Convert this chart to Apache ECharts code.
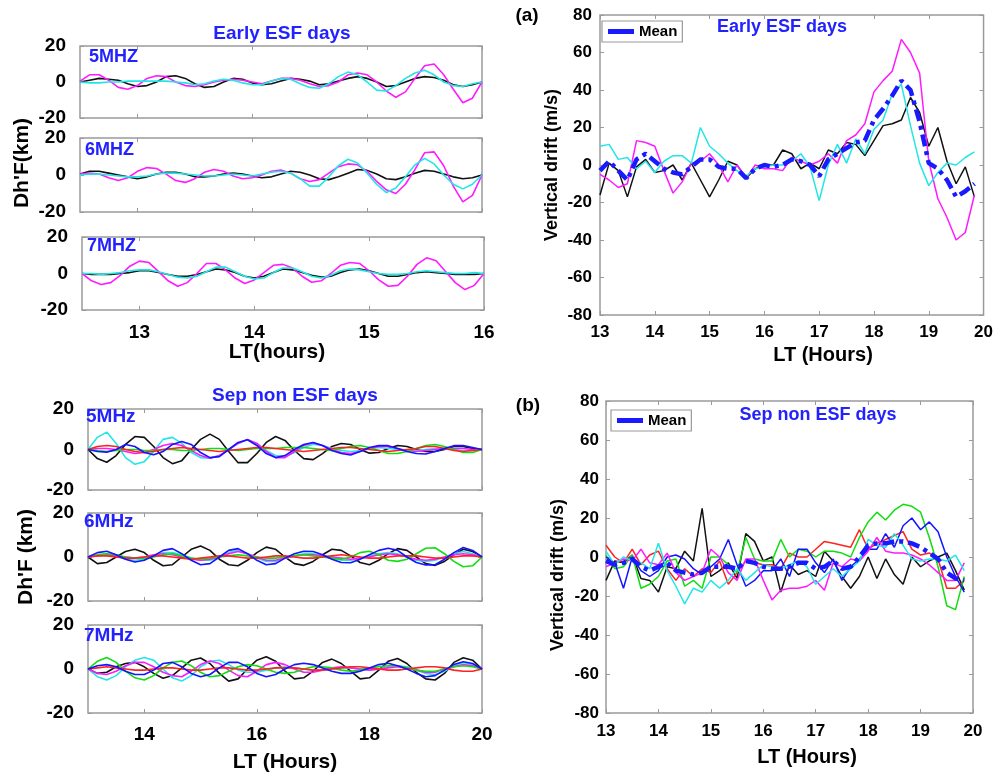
<!DOCTYPE html>
<html><head><meta charset="utf-8">
<script src="https://cdn.jsdelivr.net/npm/echarts@6/dist/echarts.min.js"></script>
<style>html,body{margin:0;padding:0;background:#fff}#c{width:996px;height:777px}</style>
</head><body><div id="c"></div>
<script>
// ---- sampling times (hours LT) ----
const tEarly = Array.from({length:43},(_,i)=>12.5+i/12);   // 5-min samples, Early ESF Dh'F
const tDrift = Array.from({length:42},(_,i)=>13+i/6);      // 10-min samples, drift panels
const tSep   = Array.from({length:43},(_,i)=>13+i/6);      // 10-min samples, Sep non ESF Dh'F

// ---- tick labels ----
const ticksEarlyX = [13,14,15,16];
const ticksSepX   = [14,16,18,20];

// ---- Early ESF days, Dh'F (km) ----
const e5_black = [0,1,2,1.5,1,-1,-2.5,-2,0,3,3.5,2,-1,-3,-2.5,0,2,1.5,-0.5,-1.5,-1,0.5,2,1.5,0.5,-1.5,-1,0.5,2,3,2,0,-2.5,-2,0,2,3,2.5,1,-1.5,-2.5,-1.5,0];
const e5_mag   = [0.5,4,4,1,-3,-4,-2,2,3.5,3,0,-2,-2.5,-1.5,0,1,1.5,1,0,-1,0.5,2,2,1,-1,-2.5,-2,0,4,5,4,0,-5,-8.5,-5.5,2,9,10,4,-4,-11.5,-9,0];
const e5_cyan  = [0,-0.5,-0.5,0,0,0.5,0.5,0.5,0.5,0.5,0,-0.5,-1.5,-1,0.5,1.5,1,-0.5,-1.5,-1.5,0.5,2,1.5,-1,-3,-3.5,-1,3,5.5,4,0,-4.5,-5,-2,2,5,6.5,4,0,-2,-2.5,-1,0];
const e6_black = [0.5,2,2,1,0,-1,-2,-1,0.5,1.5,1.5,0.5,-1,-1,-0.5,0.5,1,0.5,-0.5,-1.5,-1,0.5,2,1.5,0,-2,-2.5,-1,1,3,2.5,0.5,-2,-2.5,-1,1,2.5,2,0.5,-1,-2,-1.5,0];
const e6_mag   = [0.5,1,0.5,-1.5,-3,-1.5,2,4,3.5,0.5,-3,-4,-2,1.5,3,2,-0.5,-2,-1.5,0,2,2.7,1,-2,-3.5,-2.5,1,4.5,6,5.5,2,-3.5,-8,-10,-5,3,12,12.5,5,-6,-14.5,-11,0];
const e6_cyan  = [0,0.5,0.5,0,-0.5,-1,-1,-0.5,0.5,1,1,0.5,0,-0.5,-0.5,0,0.5,0,-0.5,0.5,1.5,2,1,-2,-6,-6,-1,5,8.5,6.5,1,-5,-9.5,-7,-1,5.5,9,6,0,-5,-7.5,-5,0];
const e7_black = [0,-0.5,-0.5,-0.5,0,0.5,1.5,1.5,0.5,-0.5,-1.5,-1.5,-0.5,1,2.5,2,0.5,-1.5,-2.5,-1.5,0.5,2.5,2,0.5,-1,-2,-1.5,0.5,2,2.5,1.5,0,-1.5,-1.5,-0.5,0.5,1,0.5,0,-0.5,-0.5,-0.5,0];
const e7_mag   = [0,-4,-6,-5,-1,4,6.8,6,1,-4,-7,-5,0,5.5,5.5,2,-2.5,-5.5,-3.5,0.5,4.5,5,3,-1.5,-4.8,-4,0,4.5,6,5.5,1.5,-3.5,-7,-6.5,-1.5,5,8.6,7,1,-5,-8.8,-6.5,0];
const e7_cyan  = [0,0,-0.5,0,0.5,1.5,2,2,1,-0.5,-2,-2.5,-1.5,1,3.5,3.5,1,-1.5,-3,-2.5,0.5,3,3,1,-1.5,-2.5,-1,1.5,2.5,2,1,0,-0.5,-0.5,0,1,1.5,1,0.5,0,0,0.5,0];

// ---- (a) Early ESF days, vertical drift (m/s) ----
const a_black = [-16,1,-3,-17,-1,3,-4,-3,0,-8,1,-8,-17,-8,2,0,-7,-2,0,0,8,6,-2,1,-2,8,6,12,11,5,13,21,22,24,36,28,10,20,2,-10,-1,-17];
const a_mag   = [-5,-8,-12,-10,13,12,10,-3,-15,-9,1,2,6,0,-9,0,-7,0,-2,-2,-3,4,2,0,2,6,1,13,16,22,39,45,50,67,60,49,2,-18,-28,-40,-36,-16];
const a_cyan  = [10,11,3,4,-2,2,-4,2,5,5,1,20,10,6,1,-3,-6,-2,-1,0,0,2,6,-1,-19,0,11,1,14,6,19,24,38,43,21,1,-11,-4,1,0,4,7];
const a_mean  = [-3,2,-3,-8,3,6,2,-2,-4,-5,-1,3,3,-1,-2,-2,-7,-2,0,-1,0,3,2,0,-6,3,6,9,12,13,24,30,37,45,40,23,1,-2,-8,-17,-14,-10];

// ---- (b) Sep non ESF days, vertical drift (m/s) ----
const b_black = [-12,-2,-3,1,-11,-12,-18,-5,-6,3,-2,25,-10,-7,-3,-11,12,8,-2,0,-18,-4,-9,-7,-10,3,-2,-10,-16,-10,0,-11,-1,-9,-14,0,-5,-2,0,2,-7,-17];
const b_red   = [6,0,-3,4,-4,1,3,-6,-12,-6,-10,-6,-8,-2,-14,-8,-2,-3,-4,-4,-6,2,0,0,4,8,7,6,5,14,4,7,9,11,13,4,1,2,-1,-16,-16,-12];
const b_green = [1,-6,-5,1,-16,-14,-10,-2,-1,-15,-12,-16,0,0,-4,-8,10,-1,-2,-2,9,0,4,3,0,3,3,2,0,10,18,23,19,24,27,26,23,10,-5,-25,-27,-10];
const b_blue  = [0,-3,-16,0,-7,-10,-7,0,1,-1,-6,-9,-5,-1,9,-4,-15,-12,-7,-7,-1,-10,4,4,-3,-8,-1,-12,-5,-1,4,4,12,5,16,20,14,18,13,0,-10,-18];
const b_mag   = [-5,-3,-1,-2,4,-3,-4,2,-8,-12,-10,-8,4,0,-8,-12,-1,-1,-12,-22,-17,-16,-16,-15,-12,-17,-3,-5,-1,-2,3,10,3,2,2,1,-1,-4,-8,-12,-12,-3];
const b_cyan  = [3,-4,0,-2,-3,-6,7,-7,-15,-24,-16,-18,-12,-16,-12,-6,-12,-8,-4,-5,-6,-4,-2,-5,-14,-10,-6,-10,-6,-2,9,6,5,12,6,-1,-2,-1,-1,-2,1,-7];
const b_mean  = [-2,-4,-3,-1,-5,-7,-5,-3,-7,-8,-9,-8,-5,-5,-5,-6,-2,-3,-5,-6,-6,-5,-3,-3,-6,-5,-2,-6,-5,0,6,7,7,8,8,7,5,2,-1,-8,-11,-12];

// ---- Sep non ESF days, Dh'F (km) ----
const s5_black = [0,-4.5,-6.3,-3,2.5,6.4,6,1.5,-4,-7,-5.5,0,5,7.6,5,-1,-6.5,-6.5,-2,3.5,6.4,4.5,-0.5,-4.5,-5,-2,1.5,3,2.5,0,-1.8,-1.5,0.5,2,1.5,0,-1,-1,0,1.5,1.5,0.5,0];
const s5_cyan  = [0,6,8.6,3,-4,-7.3,-6,-1,5,6,3,-1.5,-4,-4.3,-3,0,3,4.8,3,-0.5,-3,-3.5,-1.5,1,2.6,2,0.5,-0.5,-1,-0.5,0.5,1,0.5,0,-0.5,-0.5,0,0.5,0.5,0,-0.5,-0.5,0];
const s5_mag   = [0,0.5,0.5,0,-1,-2,-1.5,0,2,3,2,-0.5,-3,-4.3,-3,0,3,5,3,-1,-4,-4,-1,2,3.3,2,0,-1.5,-2,-1,0.5,1.5,1.5,0.5,-0.5,-1,-0.5,0,0.5,0.5,0.5,0,0];
const s5_green = [0,-0.5,-1,-0.5,0,0,-0.5,-0.5,0,0,-0.5,-0.5,0,0.5,0.5,0,-0.5,0,0.5,0.5,0.5,1,1,1,0.5,0,-0.5,0.5,1.5,2,1,-0.5,-2,-2,-1,0.5,2,2.5,1.5,0,-1.5,-1.5,0];
const s5_red   = [0,1.5,2,1.5,0,-1,-1.5,-1,0,0.5,1,0.5,0,-0.5,-1,-0.5,0,0.5,1,1,0.5,0,-0.5,-1,-0.5,0,0.5,1,1,0.5,0,-0.5,-1,-0.5,0,0.5,1.5,1.5,0.5,-0.5,-1,-0.5,0];
const s5_blue  = [0,-1,-1.3,0,2.5,1.5,-1.5,-2.6,-1,2.5,4,2.5,-1.5,-4,-3.5,0,3.5,4.8,2,-2,-4,-3,0,2.5,3.5,2,-0.5,-2,-2.7,-1,1,1.9,1.9,0.5,-1,-2,-2.2,-1,0.5,1.9,2,1,0];
const s6_black = [0,-3,-2.5,0,2.5,3.5,2,-1.5,-4,-3.5,0,3.5,5,3,-1,-3.5,-4,-1.5,2,4.5,3.5,0,-3,-3.8,-2,1,3.5,3,0.5,-2.5,-3.5,-1.5,1.5,3.8,3,0,-3,-3.8,-2,1,3.5,2.5,0];
const s6_cyan  = [0,1,1.5,0.5,-1,-1.5,-1,0.5,2,2,1,-0.5,-1.5,-1.5,0,2,3,1.5,-0.5,-2,-2,-0.5,0.5,1.5,1.5,0.5,-0.5,-1.5,-1.5,-0.5,0.5,1.5,2,1.5,0,-1.5,-2,-1.5,0,1.5,2.5,1.5,0];
const s6_mag   = [0,0.5,1,0.5,0,-0.5,0,1,1.5,1,0,-1,-1.5,-1,0,1.5,2.5,1.5,0,-1.5,-1.5,-0.5,0.5,1,1,0.5,0,-0.5,-1,-0.5,0,1,1.5,1,0,-1,-1.5,-1,0,1,1.5,1,0];
const s6_green = [0,1,1.5,1,0,-0.5,-0.5,0,1,1.5,0.5,-0.5,-1,-0.5,0,0.5,1,0.5,0,-0.5,-0.5,0,0.5,1,0.5,0,-0.5,-1,0,2,2.6,1,-1.5,-2,-1,1.5,4,4.2,1.5,-2,-4.4,-4,0];
const s6_red   = [0,0.5,0.5,0,-0.5,-0.5,0,0.5,0.5,0,-0.5,-1,-0.5,0,0.5,0.5,0,-0.5,-0.5,0,0.5,0.5,0,-0.5,-0.5,0,0.5,1,0.5,0,-0.5,-0.5,0,0.5,0.5,0.5,0,-0.5,-0.5,0,0.5,0.5,0];
const s6_blue  = [0,2,2.6,1,-1,-2.3,-1.5,0.5,3,3.8,1.5,-1.5,-3.5,-3,0,3,3.8,1.5,-1.5,-3.5,-3,-0.5,1.5,2.6,2.5,1,-1,-2.5,-2.6,-1,1,3,4,3,0,-2.5,-3.6,-3.5,-1,2,4.3,3,0];
const s7_black = [0,-2,-1.5,1,2.5,3,1,-2,-4.2,-3,0.5,4,5,2.5,-2,-5.5,-4.5,0,4,5.6,3.5,-1,-4.5,-4,-1,3,4.5,2.5,-1,-4.5,-4,-0.5,3.5,4.8,2.5,-1.5,-4.5,-5,-2,3,5.1,4,0];
const s7_cyan  = [0,-3.5,-5,-3,1,4,5.2,4,0,-4,-5.5,-3,1,3.5,4,2,-0.5,-1.5,-1.5,-0.5,0.5,1,0.5,0,-0.5,-0.5,0,0.5,0.5,0,-0.5,0,1,1.5,1,-0.5,-2,-2.5,-1,1.5,3,2,0];
const s7_mag   = [0,-2,-2.5,-1,1.5,3,3,1,-1.5,-3,-3.5,-1,2,3.6,2.5,-0.5,-3,-3.5,-1,2,3,2,0,-1.5,-1.5,-0.5,0.5,1,0.5,0,-0.5,0,0.5,1,0.5,-0.5,-1.5,-1.5,0,1,2,1.5,0];
const s7_green = [0,3.5,5.2,3,-1,-4,-5,-3,0.5,3,3.6,1.5,-1.5,-3.5,-3,-1,1,2,1.5,0,-1.5,-2,-1.5,0,1,1,0.5,-0.5,-1,-0.5,0.5,1,1.5,1.5,0.5,-0.5,-1,-1,0,1,1.5,1,0];
const s7_red   = [0,0.5,1,0.5,0,-0.5,-0.5,0,0.5,0.5,0,-0.5,-0.5,0,0.5,0.5,0,-0.5,-0.5,0,0.5,0.5,0.5,0,-0.5,-0.5,0,0.5,1,1,0.5,0,-0.5,-0.5,0,0.5,1,1,0.5,-0.5,-1,-1,0];
const s7_blue  = [0,1.5,2,1,-1,-2.5,-2.5,-0.5,2.5,3,1,-2,-3.5,-2.5,0.5,3,3,1,-2,-3.5,-2.5,0,2,2.6,2,0.5,-1,-2,-2,-1,0.5,2,2.6,1.5,0,-2,-3.5,-3,-0.5,2,3.3,2.5,0];

// ---- styling ----
const C = {black:'#111111', mag:'#ff1aff', cyan:'#22e6e6', red:'#ff2222', green:'#11dd11', blue:'#1414ff', mean:'#1a1aff', title:'#2222ff'};
const FF = '"Liberation Sans", Arial, sans-serif';
const frame = '#9a9a9a';

const grids = [
  {left:80, top:46,  width:402, height:72},
  {left:80, top:138, width:402, height:74},
  {left:82, top:237, width:402, height:73},
  {left:600, top:15, width:385, height:300},
  {left:88, top:409, width:394, height:81},
  {left:88, top:513, width:394, height:88},
  {left:88, top:625, width:394, height:88},
  {left:606, top:401, width:367, height:312}
].map(g => Object.assign({show:true, borderColor:frame, borderWidth:1.5, containLabel:false}, g));

const xAxes = [], yAxes = [];
function axes(gi, xmin, xmax, xticks, xShowLabels, xFont, xMargin, ymin, ymax, yint, yFont, yMargin){
  const tick = {inside:true, length:4, lineStyle:{color:frame, width:1}};
  const xb = {gridIndex:gi, type:'value', min:xmin, max:xmax, position:'bottom',
    axisLine:{show:false, onZero:false}, splitLine:{show:false},
    axisTick:Object.assign({}, tick),
    axisLabel:{show:xShowLabels, color:'#000', fontFamily:FF, fontWeight:'bold', fontSize:xFont, margin:xMargin}};
  if (xticks) { xb.axisTick.customValues = xticks; xb.axisLabel.customValues = xticks; }
  else { xb.interval = 1; }
  const xt = JSON.parse(JSON.stringify(xb)); xt.position='top'; xt.axisLabel={show:false};
  xAxes.push(xb, xt);
  const yl = {gridIndex:gi, type:'value', min:ymin, max:ymax, interval:yint, position:'left',
    axisLine:{show:false, onZero:false}, splitLine:{show:false}, axisTick:Object.assign({}, tick),
    axisLabel:{color:'#000', fontFamily:FF, fontWeight:'bold', fontSize:yFont, margin:yMargin}};
  const yr = JSON.parse(JSON.stringify(yl)); yr.position='right'; yr.axisLabel={show:false};
  yAxes.push(yl, yr);
}
axes(0, 12.5, 16, ticksEarlyX, false, 18, 12, -20, 20, 20, 19, 14);
axes(1, 12.5, 16, ticksEarlyX, false, 18, 12, -20, 20, 20, 19, 14);
axes(2, 12.5, 16, ticksEarlyX, true, 19, 13, -20, 20, 20, 19, 14);
axes(3, 13, 20, null, true, 17, 9, -80, 80, 20, 17, 8);
axes(4, 13, 20, ticksSepX, false, 18, 12, -20, 20, 20, 19, 14);
axes(5, 13, 20, ticksSepX, false, 18, 12, -20, 20, 20, 19, 14);
axes(6, 13, 20, ticksSepX, true, 19, 12, -20, 20, 20, 19, 14);
axes(7, 13, 20, null, true, 17, 10, -80, 80, 20, 17, 7);

const series = [];
function line(gi, t, v, color, width, name, dash){
  series.push({type:'line', name:name || undefined, xAxisIndex:2*gi, yAxisIndex:2*gi,
    data:v.map((y,i)=>[t[i], y]), symbol:'none', silent:true, animation:false,
    lineStyle:{color:color, width:width, type:dash || 'solid'}, itemStyle:{color:color}, z: name ? 5 : 2});
}
// Early ESF Dh'F
[[0,e5_black,e5_mag,e5_cyan],[1,e6_black,e6_mag,e6_cyan],[2,e7_black,e7_mag,e7_cyan]].forEach(p=>{
  line(p[0], tEarly, p[1], C.black, 1.6);
  line(p[0], tEarly, p[2], C.mag, 1.6);
  line(p[0], tEarly, p[3], C.cyan, 1.6);
});
// (a)
line(3, tDrift, a_black, C.black, 1.5);
line(3, tDrift, a_mag, C.mag, 1.5);
line(3, tDrift, a_cyan, C.cyan, 1.5);
line(3, tDrift, a_mean, C.mean, 4.5, 'Mean', [12,5,4,5]);
// Sep non ESF Dh'F
[[4,s5_black,s5_cyan,s5_mag,s5_green,s5_red,s5_blue],
 [5,s6_black,s6_cyan,s6_mag,s6_green,s6_red,s6_blue],
 [6,s7_black,s7_cyan,s7_mag,s7_green,s7_red,s7_blue]].forEach(p=>{
  line(p[0], tSep, p[1], C.black, 1.6);
  line(p[0], tSep, p[2], C.cyan, 1.6);
  line(p[0], tSep, p[3], C.mag, 1.6);
  line(p[0], tSep, p[4], C.green, 1.6);
  line(p[0], tSep, p[5], C.red, 1.6);
  line(p[0], tSep, p[6], C.blue, 1.6);
});
// (b)
line(7, tSep, b_black, C.black, 1.5);
line(7, tSep, b_red, C.red, 1.5);
line(7, tSep, b_green, C.green, 1.5);
line(7, tSep, b_blue, C.blue, 1.5);
line(7, tSep, b_mag, C.mag, 1.5);
line(7, tSep, b_cyan, C.cyan, 1.5);
line(7, tSep, b_mean, C.mean, 4.5, 'Mean', [12,5,4,5]);

function txt(x, y, text, size, color, align, rot){
  return {type:'text', x:x, y:y, rotation:rot||0, silent:true, z:10,
    style:{text:text, font:'bold '+size+'px '+FF, fill:color, align:align||'center', verticalAlign:'middle'}};
}
const graphics = [
  txt(282, 34, 'Early ESF days', 19, C.title),
  txt(89, 57, '5MHZ', 18, C.title, 'left'),
  txt(85, 150, '6MHZ', 18, C.title, 'left'),
  txt(87, 246, '7MHZ', 18, C.title, 'left'),
  txt(22, 163, "Dh'F(km)", 21, '#000', 'center', Math.PI/2),
  txt(277, 352, 'LT(hours)', 21, '#000'),
  txt(527, 16, '(a)', 19, '#000'),
  txt(782, 27, 'Early ESF days', 18, C.title),
  txt(552, 165, 'Vertical drift (m/s)', 18, '#000', 'center', Math.PI/2),
  txt(823, 355, 'LT (Hours)', 20, '#000'),
  txt(295, 396, 'Sep non ESF days', 19, C.title),
  txt(86, 417, '5MHz', 19, C.title, 'left'),
  txt(84, 522, '6MHz', 19, C.title, 'left'),
  txt(84, 636, '7MHz', 19, C.title, 'left'),
  txt(26, 557, "Dh'F (km)", 21, '#000', 'center', Math.PI/2),
  txt(285, 762, 'LT (Hours)', 21, '#000'),
  txt(528, 406, '(b)', 19, '#000'),
  txt(818, 415, 'Sep non ESF days', 18, C.title),
  txt(558, 575, 'Vertical drift (m/s)', 18, '#000', 'center', Math.PI/2),
  txt(807, 757, 'LT (Hours)', 20, '#000')
];

function legend(left, top){
  return {data:[{name:'Mean', icon:'rect'}], left:left, top:top, orient:'vertical', selectedMode:false,
    borderColor:frame, borderWidth:1.2, padding:[3,5,3,6], itemWidth:26, itemHeight:5, itemGap:0,
    textStyle:{fontFamily:FF, fontWeight:'bold', fontSize:15, color:'#000'}, backgroundColor:'#fff'};
}

const chart = echarts.init(document.getElementById('c'), null, {renderer:'canvas'});
chart.setOption({
  animation:false,
  backgroundColor:'#fff',
  grid:grids, xAxis:xAxes, yAxis:yAxes, series:series,
  legend:[legend(602, 21), legend(611, 410)],
  graphic:graphics
});
</script></body></html>
